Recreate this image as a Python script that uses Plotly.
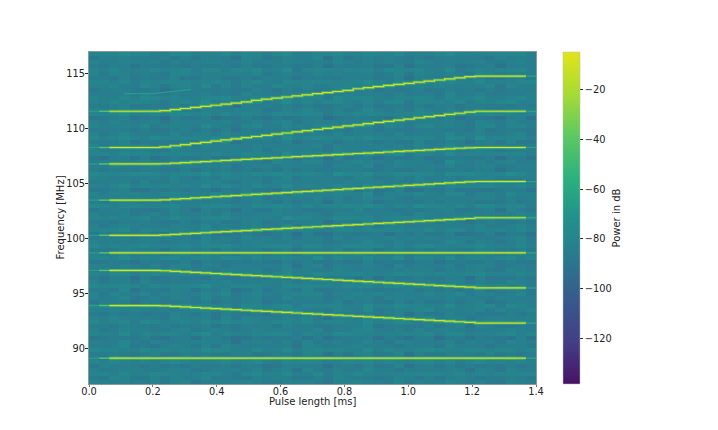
import numpy as np
import plotly.graph_objects as go

X_TICKS = [0.0, 0.2, 0.4, 0.6, 0.8, 1.0, 1.2, 1.4]
Y_TICKS = [90, 95, 100, 105, 110, 115]
CB_TICKS = [-20, -40, -60, -80, -100, -120]
X_RANGE = [0.0, 1.4]
Y_RANGE = [86.75, 117.0]
Z_RANGE = [-138.5, -4.7]

NOISE_ROWS = [
"45444354453344554434543345544354434554433544",
"33543254434533424453324354423345243354234433",
"56455466545564456556546455645546556465546556",
"44345335443244535344253443354425344352443534",
"25334243325234343224533234243352343324233424",
"55645546655456556545665546555645565546656455",
"43544634453546435546344553464543546345544635",
"34423353244332542343354232443352423344253324",
"66545656455665546556456655465645566456556546",
"34453325443425533443254434534425343544325443",
"44354254335443244534352443354245334425343544",
"13323422331342213332413223331422331242333142",
"55464556546645545665454566545546564565456646",
"43355434453354434553445334554344535443345544",
"34244335234423343524432334452334243352443234",
"65554665465556654565564655465566455645566455",
"44535343544425354434553244345543454453345435",
"33424233433324423233342433233442323434233324",
"45536445346554364545634455363445564345536446",
"56455654566455465566455654465566545645564655",
"24332443233423344232433442333243423324423344",
"44453354443534445335444335443545334445335434",
"53544635435546345434655344536445355463454363",
"34252333442335224343352334423335243324423343",
"66556465556654665545665646555665645556656454",
"43443534344345433544344534434435344453434544",
"32331423323142332341332423131423323341423233",
"55654566455465664556546655645566546456655465",
"34435344534334544335443454334435443345433544",
"45344254453442543445245344344254434425443344",
"23322333242332423323342332243323342233243323",
"56465557646556746555647565465574655646557646",
"44354344453543445344354444534354445335443445",
"33244332343324433234233442332433324233443233",
"65546655465566545665465546656455665456655465",
"44435443344543344543544334455344334553443354",
"35343445343534453534344353434535344345334453",
"14223312423321342233141233224133423312242331",
"56564556455645566455654556456655465564556465",
"43455344434534445435344453443544345344534454",
"34234433243342344332434233344232433432344233",
"55546645654566545546654566554556645455664556",
"44343354434435433453443345434433544345344354",
"24433224532433242353422433524324235423342533",
"66457556645576546675564657566455756465675564",
"33344243334243334423334243342334243344233424",
"45435453443545345344535443454534435345454435",
"54546446545364465453644554463545644563454645",
"23342133324213342313423324132342133423124332",
"45565556455656546556554565465556654556565465",
"34443534434453344354443534445334435443345443",
"45334354533435543345344533543344534335454334",
"66557665566756556675665576565567655667556765",
"33423343242334332423342334323423343243342334",
"44534454345445344534544345453445344534454345",
"35435543364435543364455335644355433654435534",
"22332413323321432332233142332323413233241332",
"56456546555464565546545655465564554656456554",
"44345433544344534354443354434534435344543344",
"53444534443544534443545344435444534544345344",
"34352334243335233434233524333423523342343523",
"65566476556475665647556647566547655664756564",
"43454344534435443345434453444354344534434453",
"34333423343324233433342332433423334233424333",
"55445635544654356445535644553644565443564554",
"44534453445345434455344534453544345443544534",
"13342231423312342231334123323142233413222341",
"56565465665546565465665455656546655465566546",
"44354344533443544334453443354344534435433445",
"33443233424333243433342334243333424324334233",
"45646554465645546456554665454664556464556645",
"55455665545566545665455465655456654556645565",
"34333533434433353433443435334344333534434335",
"24433242344233324423342443233424423334243344",
"45534653454635453464553546454635546345463545",
"56454556555465456545655645565465456555645456",
"34243334423342332443233424433342433234423343",
"43544443554344545344435544443453544443554344",
"55635465564564756456355646554756645635546564",
"33432334324233342343324233433242334323342334",
"44345454434453453444534454344534544345434454",
"25344335243443254334435242344533424344325344",
"56566545665456565466545665456565446655456565",
]
NOISE_BASE_DB = -93.0
NOISE_STEP_DB = 2.4
COLUMN_OFFSET_DB = [1.5,-1,0.5,2,-1.5,1,0,-2,1.5,0.5,-1,2,-0.5,1,-2,0.5,1.5,-1,0,2,-1.5,0.5,1,-2,1.5,-0.5,0.5,2,-1,0,1.5,-2,0.5,1,-1.5,2,0,-1,1.5,-0.5,-2,1,0.5,-1]

TONE_1 = [111.6]*7 + [111.65,111.75,111.85,111.95,112.05,112.15,112.25,112.35,112.45,112.6,112.7,112.8,112.9,113.0,113.1,113.2,113.3,113.4,113.5,113.65,113.75,113.85,113.95,114.05,114.15,114.25,114.35,114.45,114.55,114.65,114.75] + [114.8]*6
TONE_2 = [108.3]*7 + [108.35,108.46,108.56,108.67,108.77,108.88,108.99,109.09,109.2,109.3,109.41,109.52,109.62,109.73,109.83,109.94,110.05,110.15,110.26,110.36,110.47,110.58,110.68,110.79,110.89,111.0,111.11,111.21,111.32,111.42,111.53] + [111.6]*6
TONE_3 = [106.8]*7 + [106.82,106.87,106.92,106.97,107.02,107.07,107.12,107.17,107.22,107.27,107.31,107.36,107.41,107.46,107.51,107.55,107.6,107.65,107.7,107.75,107.79,107.84,107.89,107.94,107.99,108.03,108.08,108.13,108.18,108.23,108.27] + [108.3]*6
TONE_4 = [103.5]*7 + [103.53,103.59,103.64,103.7,103.75,103.81,103.86,103.92,103.97,104.03,104.08,104.14,104.19,104.25,104.3,104.35,104.41,104.46,104.52,104.57,104.63,104.68,104.74,104.79,104.85,104.9,104.96,105.01,105.07,105.12,105.17] + [105.2]*6
TONE_5 = [100.3]*7 + [100.33,100.38,100.43,100.48,100.53,100.58,100.63,100.68,100.73,100.78,100.83,100.88,100.93,100.98,101.03,101.08,101.13,101.18,101.23,101.28,101.33,101.38,101.43,101.48,101.53,101.58,101.63,101.68,101.73,101.78,101.83] + [101.9]*6
TONE_6 = [98.7]*44
TONE_7 = [97.1]*7 + [97.07,97.02,96.97,96.92,96.87,96.82,96.77,96.72,96.67,96.62,96.57,96.52,96.47,96.42,96.37,96.32,96.27,96.22,96.17,96.12,96.07,96.02,95.97,95.92,95.87,95.82,95.77,95.72,95.67,95.62,95.57] + [95.5]*6
TONE_8 = [93.9]*7 + [93.87,93.82,93.77,93.72,93.67,93.62,93.57,93.52,93.47,93.42,93.37,93.32,93.27,93.22,93.17,93.12,93.07,93.02,92.97,92.92,92.87,92.82,92.77,92.72,92.67,92.62,92.57,92.52,92.47,92.42,92.37] + [92.3]*6
TONE_9 = [89.1]*44
TONES = [TONE_1, TONE_2, TONE_3, TONE_4, TONE_5, TONE_6, TONE_7, TONE_8, TONE_9]

GHOST_X = [0.11, 0.2, 0.32]
GHOST_Y = [113.2, 113.2, 113.6]

COLORS = [[0.0, "#471365"], [0.125, "#433e85"], [0.25, "#38588c"], [0.375, "#2a788e"],
          [0.5, "#21918c"], [0.625, "#2db27d"], [0.75, "#5ec962"], [0.875, "#a8db34"], [1.0, "#e2e418"]]

z = [[NOISE_BASE_DB + NOISE_STEP_DB * int(c) + COLUMN_OFFSET_DB[i] for i, c in enumerate(row)] for row in NOISE_ROWS]
n_rows, n_cols = len(z), len(z[0])
x_edges = np.linspace(X_RANGE[0], X_RANGE[1], n_cols + 1)
y_edges = np.linspace(Y_RANGE[0], Y_RANGE[1], n_rows + 1)
FONT = "DejaVu Sans"
TEXT = "#222222"
TICK_SIZE = 9.8
TITLE_SIZE = 10

fig = go.Figure()
fig.add_trace(go.Heatmap(
    z=z, x=(x_edges[:-1] + x_edges[1:]) / 2, y=(y_edges[:-1] + y_edges[1:]) / 2,
    colorscale=COLORS, zmin=Z_RANGE[0], zmax=Z_RANGE[1], hoverinfo="skip",
    colorbar=dict(
        x=1.0604, xanchor="left", y=0.5, yanchor="middle", len=1, lenmode="fraction",
        thickness=17, thicknessmode="pixels", xpad=0, ypad=0,
        outlinewidth=0.5, outlinecolor="#bbbbbb",
        tickvals=CB_TICKS, ticktext=["\u2212" + str(-v) for v in CB_TICKS],
        ticks="outside", ticklen=3, tickwidth=0.7, tickcolor=TEXT,
        tickfont=dict(family=FONT, size=TICK_SIZE, color=TEXT),
    ),
))

def add_line(xs, ys, color, width, opacity=1.0):
    fig.add_trace(go.Scatter(x=xs, y=ys, mode="lines", line=dict(color=color, width=width, shape="hv"),
                             opacity=opacity, hoverinfo="skip", showlegend=False))

fig.add_trace(go.Scatter(x=GHOST_X, y=GHOST_Y, mode="lines", line=dict(color="#259c88", width=1.2),
                         hoverinfo="skip", showlegend=False))
for tone in TONES:
    xs = list(x_edges[2:44])
    ys = tone[2:43] + [tone[42]]
    add_line(list(x_edges[0:2]), [tone[0], tone[0]], "#27a085", 1.2)
    add_line(list(x_edges[1:3]), [tone[1], tone[1]], "#4ec36b", 1.5)
    add_line(list(x_edges[43:45]), [tone[43], tone[43]], "#27a085", 1.5)
    add_line(xs, ys, "#4ac16d", 3.0, 0.65)
    add_line(xs, ys, "#d2e01f", 1.2)

axis_common = dict(
    ticks="outside", tickwidth=0.7, showgrid=False, zeroline=False,
    showline=True, linewidth=1, linecolor="#8a9a9a", mirror=True,
    tickfont=dict(family=FONT, size=TICK_SIZE, color=TEXT),
)
TITLE_FONT = dict(family=FONT, size=TITLE_SIZE, color=TEXT)
fig.update_layout(
    width=718, height=430, margin=dict(l=81, r=190, t=44, b=54, autoexpand=False),
    paper_bgcolor="white", plot_bgcolor="white", showlegend=False,
    font=dict(family=FONT, color=TEXT),
    xaxis=dict(range=X_RANGE, tickvals=X_TICKS, ticktext=[f"{v:.1f}" for v in X_TICKS],
               ticklen=2, tickcolor="#777777", ticklabelstandoff=-4, **axis_common),
    yaxis=dict(range=Y_RANGE, tickvals=Y_TICKS, ticklen=3, tickcolor=TEXT, ticklabelstandoff=-2, **axis_common),
    annotations=[
        dict(text="Pulse length [ms]", xref="paper", yref="paper", x=0.5, y=0, yanchor="top", yshift=-10,
             showarrow=False, font=TITLE_FONT),
        dict(text="Frequency [MHz]", xref="paper", yref="paper", x=0, y=0.5, xanchor="right", xshift=-22,
             textangle=-90, showarrow=False, font=TITLE_FONT),
        dict(text="Power in dB", xref="paper", yref="paper", x=1.0604, y=0.5, xanchor="left", xshift=46,
             textangle=-90, showarrow=False, font=TITLE_FONT),
    ],
)
fig.write_html("out.html", config=dict(displayModeBar=False))
